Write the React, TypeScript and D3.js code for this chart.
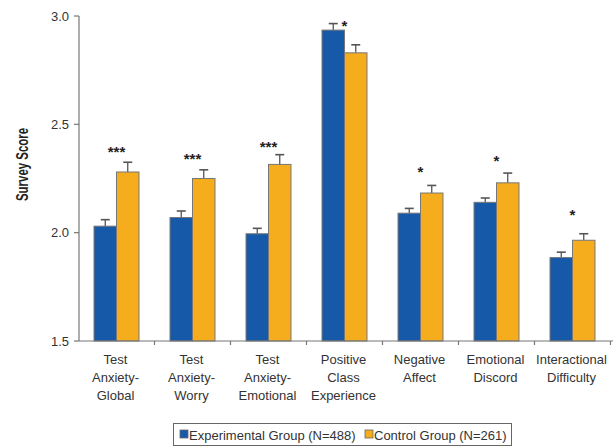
import React from "react";
import * as d3 from "d3";

// Survey outcome means (with standard errors) by group
const categories: string[][] = [
  ["Test", "Anxiety-", "Global"],
  ["Test", "Anxiety-", "Worry"],
  ["Test", "Anxiety-", "Emotional"],
  ["Positive", "Class", "Experience"],
  ["Negative", "Affect"],
  ["Emotional", "Discord"],
  ["Interactional", "Difficulty"],
];
const experimental = [2.03, 2.07, 1.995, 2.935, 2.09, 2.14, 1.885];
const experimentalErr = [0.03, 0.03, 0.025, 0.03, 0.022, 0.02, 0.025];
const control = [2.28, 2.25, 2.315, 2.83, 2.183, 2.23, 1.965];
const controlErr = [0.045, 0.04, 0.045, 0.037, 0.035, 0.045, 0.03];
const significance = ["***", "***", "***", "*", "*", "*", "*"];
const significanceLevel = [2.39, 2.36, 2.415, 2.972, 2.3, 2.347, 2.098];
const yTicks = [1.5, 2.0, 2.5, 3.0];
const seriesNames = ["Experimental Group (N=488)", "Control Group (N=261)"];

const W = 613;
const H = 448;
const BLUE = "#1659a8";
const ORANGE = "#f5ad1d";
const FONT = "'Liberation Sans', Arial, Helvetica, sans-serif";

export default function App() {
  const keys = categories.map((c) => c.join(" "));
  const x = d3.scaleBand<string>().domain(keys).range([78.5, 610.5]).padding(0);
  const sub = d3
    .scaleBand<string>()
    .domain(["exp", "ctl"])
    .range([0, x.bandwidth()])
    .paddingInner(0)
    .paddingOuter(0.69);
  const y = d3.scaleLinear().domain([1.5, 3.0]).range([341, 16]);
  const axisX = 79;
  const baseY = y(1.5);

  const series = [
    { key: "exp", values: experimental, errs: experimentalErr, color: BLUE },
    { key: "ctl", values: control, errs: controlErr, color: ORANGE },
  ];

  return (
    <svg
      width={W}
      height={H}
      style={{ position: "absolute", left: 0, top: 0, background: "#fff" }}
      fontFamily={FONT}
    >
      {/* bars with error bars */}
      {keys.map((k, i) => (
        <g key={k} transform={`translate(${x(k)},0)`}>
          {series.map((s) => {
            const bx = sub(s.key)!;
            const bw = sub.bandwidth();
            const top = y(s.values[i]);
            const cap = y(s.values[i] + s.errs[i]);
            const cx = bx + bw / 2;
            return (
              <g key={s.key}>
                <line x1={cx} x2={cx} y1={top} y2={cap} stroke="#555" strokeWidth={1.3} />
                <line x1={cx - 4.5} x2={cx + 4.5} y1={cap} y2={cap} stroke="#555" strokeWidth={1.6} />
                <rect
                  x={bx}
                  y={top}
                  width={bw}
                  height={baseY - top}
                  fill={s.color}
                  stroke="#777"
                  strokeWidth={1}
                />
              </g>
            );
          })}
          <text
            x={x.bandwidth() / 2}
            y={y(significanceLevel[i]) + 9}
            textAnchor="middle"
            fontSize={15}
            fontWeight="bold"
            fill="#222"
          >
            {significance[i]}
          </text>
        </g>
      ))}

      {/* y axis */}
      <line x1={axisX} x2={axisX} y1={y(3.0)} y2={baseY} stroke="#777" strokeWidth={1.2} />
      {yTicks.map((t) => (
        <g key={t}>
          <line x1={axisX - 5} x2={axisX} y1={y(t)} y2={y(t)} stroke="#777" strokeWidth={1.2} />
          <text x={axisX - 10} y={y(t) + 4.5} textAnchor="end" fontSize={13} fill="#333">
            {d3.format(".1f")(t)}
          </text>
        </g>
      ))}
      <text
        transform={`translate(28,${(y(3.0) + baseY) / 2 - 14}) rotate(-90)`}
        textAnchor="middle"
        fontSize={16.5}
        fontWeight="bold"
        fill="#222"
        textLength={73}
        lengthAdjust="spacingAndGlyphs"
      >
        Survey Score
      </text>

      {/* x axis */}
      <line x1={axisX} x2={W} y1={baseY} y2={baseY} stroke="#777" strokeWidth={1.2} />
      {keys.map((k) => {
        const tx = x(k)! + x.bandwidth();
        return <line key={k} x1={tx} x2={tx} y1={baseY} y2={baseY + 4} stroke="#777" strokeWidth={1.2} />;
      })}
      {categories.map((lines, i) => (
        <text
          key={keys[i]}
          x={x(keys[i])! + x.bandwidth() / 2 - 1}
          y={364}
          textAnchor="middle"
          fontSize={13}
          fill="#333"
        >
          {lines.map((ln, j) => (
            <tspan key={j} x={x(keys[i])! + x.bandwidth() / 2 - 1} dy={j === 0 ? 0 : 18}>
              {ln}
            </tspan>
          ))}
        </text>
      ))}

      {/* legend */}
      <g>
        <rect x={173.5} y={423.5} width={338} height={22} fill="#fff" stroke="#666" strokeWidth={1} />
        <rect x={180} y={430} width={8} height={8} fill={BLUE} stroke="#666" strokeWidth={0.8} />
        <text x={189} y={439.5} fontSize={13} fill="#333">
          {seriesNames[0]}
        </text>
        <rect x={365} y={430} width={8} height={8} fill={ORANGE} stroke="#666" strokeWidth={0.8} />
        <text x={374} y={439.5} fontSize={13} fill="#333">
          {seriesNames[1]}
        </text>
      </g>
    </svg>
  );
}
